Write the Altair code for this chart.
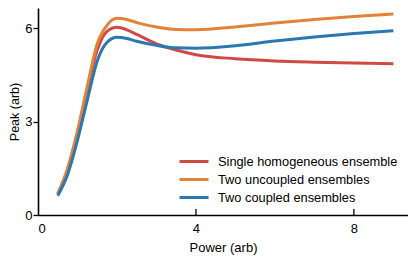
import altair as alt
import pandas as pd

x_vals = [0.5, 0.75, 1.0, 1.25, 1.5, 1.75, 2.0, 2.25, 2.5, 3.0, 3.5, 4.0, 5.0, 6.0, 7.0, 8.0, 9.0]
single = [0.68, 1.45, 2.65, 4.05, 5.3, 5.9, 6.03, 5.95, 5.8, 5.5, 5.3, 5.15, 5.02, 4.95, 4.91, 4.88, 4.86]
uncoupled = [0.68, 1.5, 2.7, 4.15, 5.5, 6.1, 6.32, 6.28, 6.18, 6.04, 5.96, 5.95, 6.04, 6.17, 6.28, 6.38, 6.46]
coupled = [0.62, 1.3, 2.4, 3.7, 4.95, 5.55, 5.71, 5.67, 5.58, 5.45, 5.37, 5.36, 5.44, 5.59, 5.72, 5.83, 5.92]

series_names = ["Single homogeneous ensemble", "Two uncoupled ensembles", "Two coupled ensembles"]
series_colors = ["#d04a45", "#e3833a", "#2b77b0"]
x_ticks = [0, 4, 8]
y_ticks = [0, 3, 6]

rows = []
for name, vals in zip(series_names, [single, uncoupled, coupled]):
    for xv, yv in zip(x_vals, vals):
        rows.append({"Power": xv, "Peak": yv, "Series": name})
df = pd.DataFrame(rows)

W, H = 370, 207
font = "Liberation Sans"

xscale = alt.Scale(domain=[0, 9.37], nice=False, zero=False)
yscale = alt.Scale(domain=[0, 6.65], nice=False)

lines = alt.Chart(df).mark_line(strokeWidth=3, interpolate="monotone").encode(
    x=alt.X("Power:Q", scale=xscale, title="Power (arb)",
            axis=alt.Axis(values=x_ticks, tickSize=0, labelPadding=7, grid=False,
                          domainColor="black", domainWidth=1.6, labelFontSize=13,
                          titleFontSize=13, titlePadding=6, labelColor="black",
                          titleColor="black", titleFontWeight="normal",
                          labelFont=font, titleFont=font)),
    y=alt.Y("Peak:Q", scale=yscale, title="Peak (arb)",
            axis=alt.Axis(values=y_ticks, tickSize=5, tickColor="black", tickWidth=1.3,
                          labelPadding=1, grid=False, domainColor="black", domainWidth=1.6,
                          labelFontSize=13, titleFontSize=12.5, titlePadding=3.5,
                          labelColor="black", titleColor="black", titleFontWeight="normal",
                          labelFont=font, titleFont=font)),
    color=alt.Color("Series:N", sort=series_names,
                    scale=alt.Scale(domain=series_names, range=series_colors),
                    legend=alt.Legend(title=None, orient="none", legendX=147, legendY=144.5,
                                      symbolType="M-2,0H2", symbolSize=210, symbolStrokeWidth=3,
                                      labelFontSize=12.8, labelFont=font, labelColor="black",
                                      labelOffset=15, rowPadding=2, labelLimit=400)),
)

tick_df = pd.DataFrame({"t": x_ticks[1:]})
ticks = alt.Chart(tick_df).mark_rule(color="black", strokeWidth=1.3).encode(
    x=alt.X("t:Q", scale=xscale),
    y=alt.value(H),
    y2=alt.value(H - 6),
)

chart = alt.layer(lines, ticks).properties(
    width=W, height=H,
    autosize=alt.AutoSizeParams(type="none"),
    padding={"left": 30, "top": 0, "right": 0, "bottom": 43},
).configure_view(stroke=None)

chart.save("out.html", embed_options={"renderer": "svg", "actions": False})
